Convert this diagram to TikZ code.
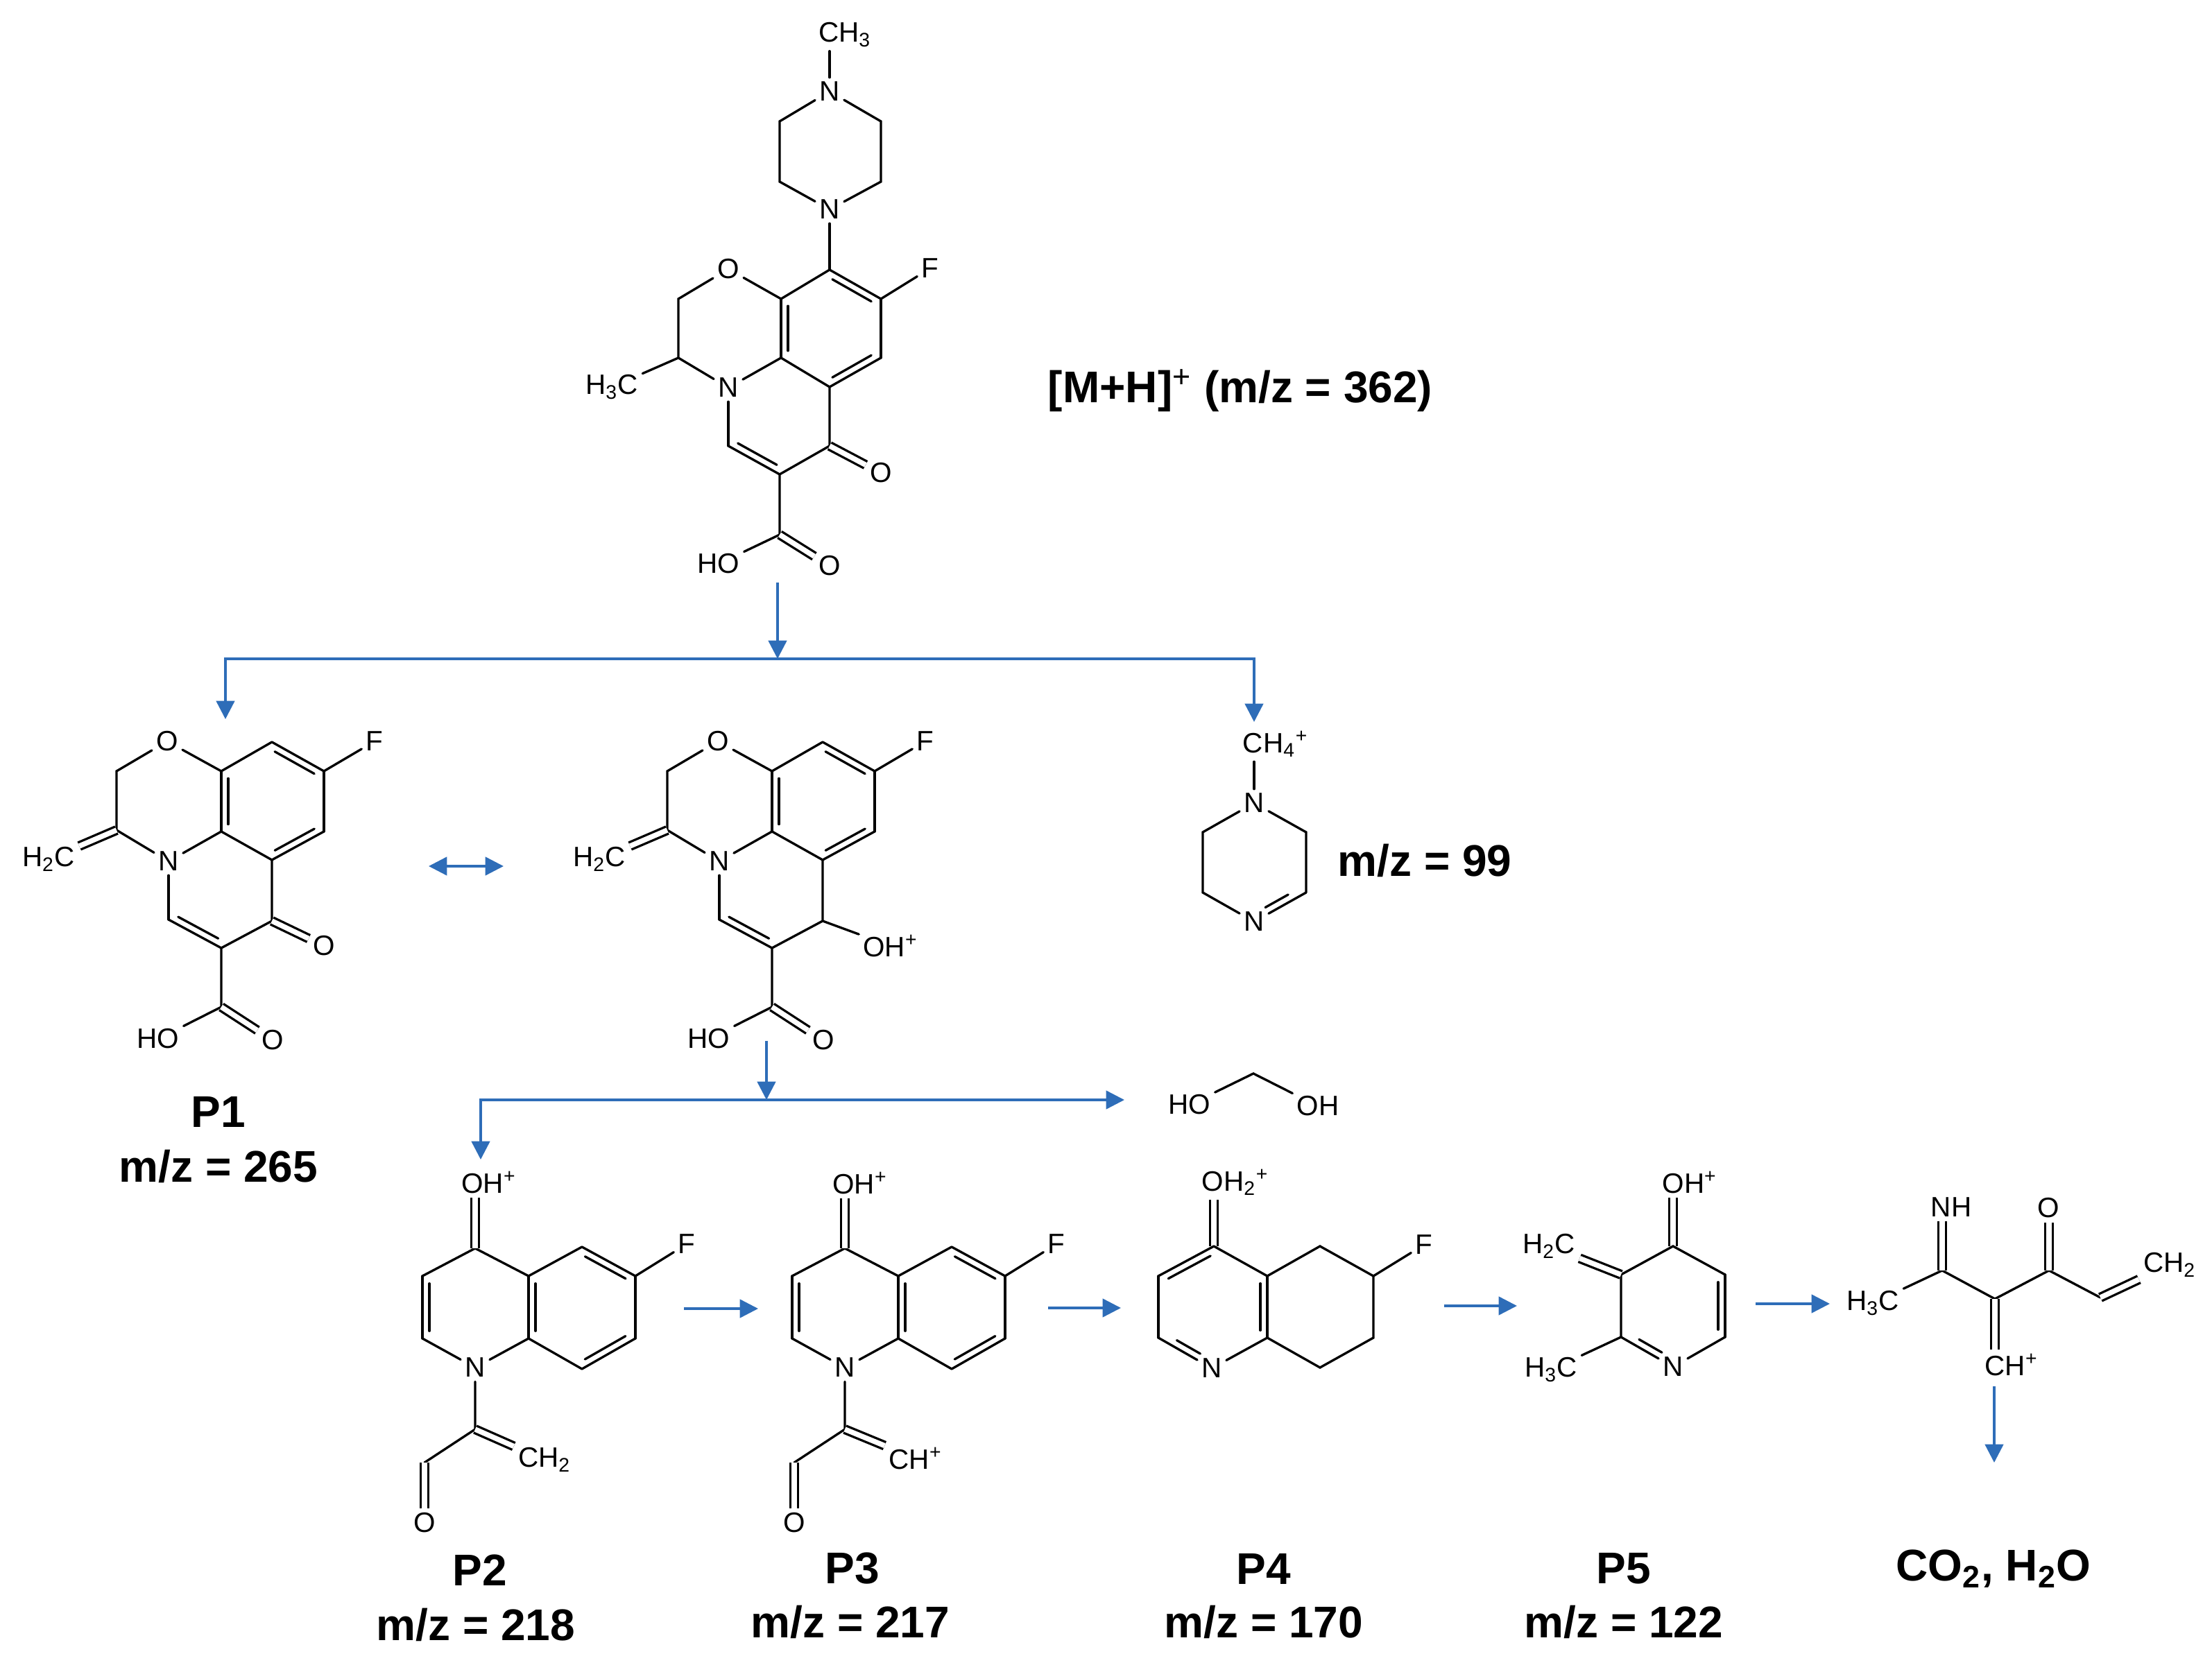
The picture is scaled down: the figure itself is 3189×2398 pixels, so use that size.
\documentclass[tikz,border=0pt]{standalone}
\usepackage{fontspec}
\setmainfont{Liberation Sans}
\usetikzlibrary{calc,arrows.meta}
\definecolor{flowblue}{HTML}{2E6DB8}
\newcommand{\atomfont}{\fontsize{11.5}{13}\selectfont}
\newcommand{\tagfont}{\fontsize{18.2}{20}\selectfont\bfseries}
% double bond, inner line on the left of the way from #2 to #3
\newcommand{\dbl}[3][.12]{%
 \draw[bond] (#2) -- (#3);
 \draw[bond] ($(#2)!#1!(#3)!.1cm!90:(#3)$) -- ($(#3)!#1!(#2)!.1cm!-90:(#2)$);}
\begin{document}
\begin{tikzpicture}[x=.01cm,y=-.01cm,
 bond/.style={draw,line width=.95pt,line cap=round},
 dbond/.style={draw,line width=.95pt,double,double distance=2.1pt},
 atom/.style={inner sep=1.6pt,font=\atomfont},
 tag/.style={inner sep=0pt,font=\tagfont},
 flow/.style={draw=flowblue,line width=1pt,-{Triangle[width=7.5pt,length=7.5pt]}}]
\useasboundingbox (0,0) rectangle (3189,2398);

% parent ion
\node[atom] (mch) at (1218,50) {CH\textsubscript{3}};
\node[atom] (mn1) at (1196,132) {N};
\node[atom] (mn2) at (1196,302) {N};
\node[atom] (mf) at (1341,387) {F};
\node[atom] (mo1) at (1050,388) {O};
\node[atom] (mn3) at (1050,559) {N};
\node[atom] (mme) at (882,558) {H\textsubscript{3}C};
\node[atom] (mo2) at (1270,682) {O};
\node[atom] (mho) at (1036,813) {HO};
\node[atom] (mo3) at (1196,816) {O};
\coordinate (mp1) at (1270,175);
\coordinate (mp2) at (1270,262);
\coordinate (mp3) at (1124,262);
\coordinate (mp4) at (1124,175);
\coordinate (mc1) at (1196,389);
\coordinate (mc2) at (1270,431);
\coordinate (mc3) at (1270,516);
\coordinate (mc4) at (1196,558);
\coordinate (mc5) at (1126,516);
\coordinate (mc6) at (1126,431);
\coordinate (mc7) at (978,431);
\coordinate (mc8) at (978,516);
\coordinate (mc9) at (1050,643);
\coordinate (mc10) at (1124,684);
\coordinate (mc11) at (1196,643);
\coordinate (mc12) at (1124,771);
\draw[bond] (mn1) -- (mn1 |- mch.south);
\draw[bond] (mn1) -- (mp1) -- (mp2) -- (mn2) -- (mp3) -- (mp4) -- (mn1);
\draw[bond] (mn2) -- (mc1);
\draw[bond] (mc2) -- (mf);
\draw[bond] (mc1) -- (mc6) -- (mo1) -- (mc7) -- (mc8) -- (mn3) -- (mc5) -- (mc4);
\draw[bond] (mc8) -- (mme);
\draw[bond] (mc2) -- (mc3);
\draw[bond] (mn3) -- (mc9);
\draw[bond] (mc4) -- (mc11) -- (mc10) -- (mc12) -- (mho);
\dbl{mc2}{mc1}
\dbl{mc6}{mc5}
\dbl{mc4}{mc3}
\dbl{mc9}{mc10}
\draw[dbond] (mc11) -- (mo2);
\draw[dbond] (mc12) -- (mo3);
\node[tag] (mion) at (1788,563) {[M+H]\textsuperscript{\mdseries +} (m/z = 362)};

% P1 and its resonance form
\foreach \m/\dx in {a/0,b/794}{
\begin{scope}[shift={(\dx,1)}]
\node[atom] (\m o1) at (241,1068) {O};
\node[atom] (\m f) at (540,1068) {F};
\node[atom] (\m n) at (243,1241) {N};
\node[atom] (\m me) at (70,1238) {H\textsubscript{2}C};
\node[atom] (\m ho) at (228,1497) {HO};
\node[atom] (\m o3) at (393,1499) {O};
\coordinate (\m c1) at (392,1069);
\coordinate (\m c2) at (467,1111);
\coordinate (\m c3) at (467,1198);
\coordinate (\m c4) at (392,1239);
\coordinate (\m c5) at (319,1198);
\coordinate (\m c6) at (319,1111);
\coordinate (\m c7) at (168,1111);
\coordinate (\m c8) at (168,1196);
\coordinate (\m c9) at (243,1325);
\coordinate (\m c10) at (319,1366);
\coordinate (\m c11) at (392,1327);
\coordinate (\m c12) at (319,1451);
\draw[bond] (\m c1) -- (\m c6) -- (\m o1) -- (\m c7) -- (\m c8) -- (\m n) -- (\m c5) -- (\m c4);
\draw[bond] (\m c2) -- (\m f);
\draw[bond] (\m c2) -- (\m c3);
\draw[bond] (\m n) -- (\m c9);
\draw[bond] (\m c4) -- (\m c11) -- (\m c10) -- (\m c12) -- (\m ho);
\dbl{\m c2}{\m c1}
\dbl{\m c6}{\m c5}
\dbl{\m c4}{\m c3}
\dbl{\m c9}{\m c10}
\draw[dbond] (\m c8) -- (\m me);
\draw[dbond] (\m c12) -- (\m o3);
\end{scope}
}
\node[atom] (ao2) at (467,1364) {O};
\draw[dbond] (ac11) -- (ao2);
\node[atom] (boh) at (1284,1364) {OH\textsuperscript{+}};
\draw[bond] (bc11) -- (boh);

% piperazine fragment
\node[atom] (fch) at (1839,1073) {CH\textsubscript{4}\textsuperscript{+}};
\node[atom] (fn1) at (1808,1158) {N};
\node[atom] (fn2) at (1808,1329) {N};
\coordinate (fc1) at (1883,1200);
\coordinate (fc2) at (1883,1287);
\coordinate (fc3) at (1734,1287);
\coordinate (fc4) at (1734,1200);
\draw[bond] (fn1) -- (fn1 |- fch.south);
\draw[bond] (fn1) -- (fc1) -- (fc2);
\draw[bond] (fn2) -- (fc3) -- (fc4) -- (fn1);
\dbl[.28]{fn2}{fc2}
\node[tag] (fmz) at (2054,1241) {m/z = 99};

% lost diol
\node[atom] (dho) at (1715,1593) {HO};
\node[atom] (doh) at (1900,1595) {OH};
\coordinate (dc) at (1807,1548);
\draw[bond] (dho) -- (dc) -- (doh);

% P2 and P3
\foreach \m/\dx in {p/0,q/533}{
\begin{scope}[shift={(\dx,2)}]
\node[atom] (\m n) at (685,1970) {N};
\coordinate (\m c1) at (685,1798);
\coordinate (\m c2) at (609,1838);
\coordinate (\m c3) at (609,1928);
\coordinate (\m c4) at (762,1838);
\coordinate (\m c5) at (762,1928);
\coordinate (\m c6) at (839,1796);
\coordinate (\m c7) at (916,1838);
\coordinate (\m c8) at (916,1928);
\coordinate (\m c9) at (839,1972);
\coordinate (\m c10) at (685,2059);
\coordinate (\m c11) at (612,2107);
\node[atom] (\m o) at (612,2194) {O};
\node[atom] (\m f) at (990,1792) {F};
\draw[bond] (\m c2) -- (\m c1) -- (\m c4) -- (\m c6);
\draw[bond] (\m c3) -- (\m n) -- (\m c5) -- (\m c9);
\draw[bond] (\m c7) -- (\m c8);
\draw[bond] (\m c7) -- (\m f);
\draw[bond] (\m n) -- (\m c10) -- (\m c11);
\dbl{\m c2}{\m c3}
\dbl{\m c4}{\m c5}
\dbl{\m c7}{\m c6}
\dbl{\m c9}{\m c8}
\draw[dbond] (\m c11) -- (\m o);
\end{scope}
}
\node[atom] (poh) at (705,1705) {OH\textsuperscript{+}};
\node[atom] (qoh) at (1240,1706) {OH\textsuperscript{+}};
\draw[dbond] (pc1) -- (pc1 |- poh.south);
\draw[dbond] (qc1) -- (qc1 |- qoh.south);
\node[atom] (pch) at (785,2105) {CH\textsubscript{2}};
\node[atom] (qch) at (1320,2103) {CH\textsuperscript{+}};
\draw[dbond] (pc10) -- (pch);
\draw[dbond] (qc10) -- (qch);

% P4
\node[atom] (roh) at (1781,1705) {OH\textsubscript{2}\textsuperscript{+}};
\node[atom] (rn) at (1747,1973) {N};
\node[atom] (rf) at (2053,1795) {F};
\coordinate (rc1) at (1750,1797);
\coordinate (rc2) at (1670,1840);
\coordinate (rc3) at (1670,1929);
\coordinate (rc4) at (1827,1840);
\coordinate (rc5) at (1827,1929);
\coordinate (rc6) at (1903,1797);
\coordinate (rc7) at (1980,1840);
\coordinate (rc8) at (1980,1929);
\coordinate (rc9) at (1903,1972);
\draw[dbond] (rc1) -- (rc1 |- roh.south);
\draw[bond] (rc2) -- (rc3);
\draw[bond] (rc1) -- (rc4) -- (rc6) -- (rc7) -- (rc8) -- (rc9) -- (rc5) -- (rn);
\draw[bond] (rc7) -- (rf);
\dbl{rc1}{rc2}
\dbl[.28]{rc3}{rn}
\dbl{rc5}{rc4}

% P5
\node[atom] (soh) at (2436,1705) {OH\textsuperscript{+}};
\node[atom] (sn) at (2412,1971) {N};
\node[atom] (sh2) at (2233,1797) {H\textsubscript{2}C};
\node[atom] (sh3) at (2236,1975) {H\textsubscript{3}C};
\coordinate (sc1) at (2412,1797);
\coordinate (sc2) at (2487,1838);
\coordinate (sc3) at (2487,1928);
\coordinate (sc4) at (2337,1928);
\coordinate (sc5) at (2337,1838);
\draw[dbond] (sc1) -- (sc1 |- soh.south);
\draw[bond] (sc5) -- (sc1) -- (sc2);
\draw[bond] (sc3) -- (sn);
\draw[bond] (sc5) -- (sc4) -- (sh3);
\dbl{sc3}{sc2}
\dbl[.28]{sc4}{sn}
\draw[dbond] (sc5) -- (sh2);

% open chain ion
\node[atom] (tme) at (2700,1879) {H\textsubscript{3}C};
\node[atom] (tnh) at (2813,1741) {NH};
\node[atom] (to) at (2953,1742) {O};
\node[atom] (tch2) at (3128,1824) {CH\textsubscript{2}};
\node[atom] (tch) at (2900,1968) {CH\textsuperscript{+}};
\coordinate (tc1) at (2800,1832);
\coordinate (tc2) at (2876,1873);
\coordinate (tc3) at (2954,1832);
\coordinate (tc4) at (3028,1871);
\draw[bond] (tme) -- (tc1) -- (tc2) -- (tc3) -- (tc4);
\draw[dbond] (tc1) -- (tc1 |- tnh.south);
\draw[dbond] (tc3) -- (tc3 |- to.south);
\draw[dbond] (tc2) -- (tc2 |- tch.north);
\draw[dbond] (tc4) -- (tch2);
\node[tag] (co) at (2874,2262) {CO\textsubscript{2}, H\textsubscript{2}O};

% names and masses
\foreach \n/\x/\xx/\y/\yy/\mz in {1/315/315/1603/1682/265,2/692/686/2264/2343/218,3/1229/1226/2262/2339/217,4/1822/1822/2262/2339/170,5/2341/2341/2262/2339/122}{
 \node[tag] (name\n) at (\x,\y) {P\n};
 \node[tag] (mass\n) at (\xx,\yy) {m/z = \mz};
}

% arrows
\coordinate (st1) at (1121,840);
\coordinate (jt) at (1121,950);
\coordinate (jtl) at (325,950);
\coordinate (jtr) at (1808,950);
\coordinate (ina) at (325,1037);
\coordinate (inf) at (1808,1041);
\draw[flow] (st1) -- (jt);
\draw[flow] (jt) -- (jtl) -- (ina);
\draw[flow] (jt) -- (jtr) -- (inf);
\coordinate (st2) at (1105,1501);
\coordinate (jb) at (1105,1586);
\coordinate (jbl) at (693,1586);
\coordinate (inp) at (693,1672);
\coordinate (ind) at (1621,1586);
\draw[flow] (st2) -- (jb);
\draw[flow] (jb) -- (jbl) -- (inp);
\draw[flow] (jb) -- (ind);
\coordinate (res1) at (618,1249);
\coordinate (res2) at (726,1249);
\draw[flow,{Triangle[width=7.5pt,length=7.5pt]}-{Triangle[width=7.5pt,length=7.5pt]}] (res1) -- (res2);
\foreach \i/\xa/\xb/\y in {1/986/1093/1887,2/1511/1616/1886,3/2082/2187/1883,4/2531/2638/1880}{
 \coordinate (fa\i) at (\xa,\y);
 \coordinate (fb\i) at (\xb,\y);
 \draw[flow] (fa\i) -- (fb\i);
}
\coordinate (dn1) at (2875,1999);
\coordinate (dn2) at (2875,2109);
\draw[flow] (dn1) -- (dn2);
\end{tikzpicture}
\end{document}
